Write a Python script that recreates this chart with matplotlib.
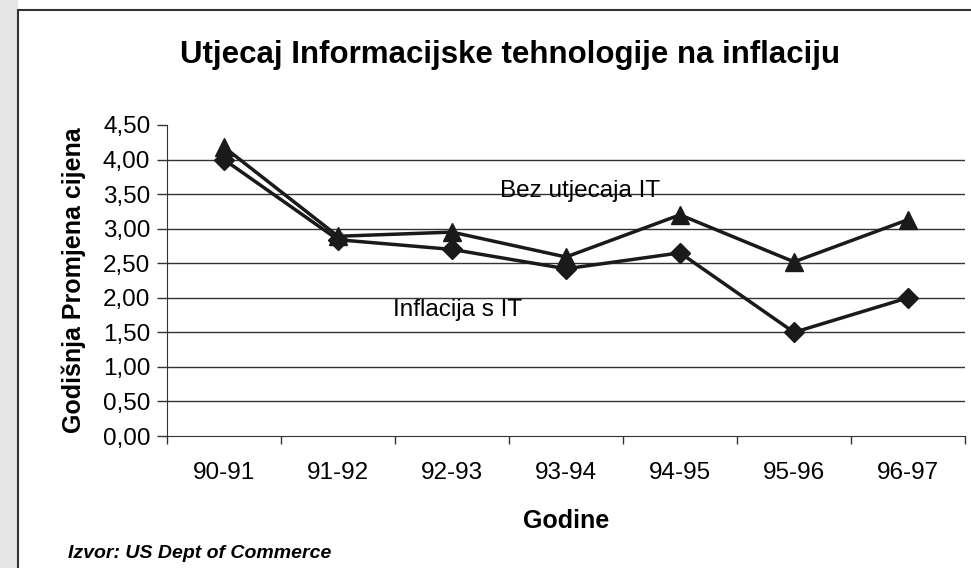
import matplotlib.pyplot as plt
from matplotlib.patches import Rectangle

plt.rcParams['font.family'] = ['Liberation Sans', 'DejaVu Sans']

godine = ["90-91", "91-92", "92-93", "93-94", "94-95", "95-96", "96-97"]
bez_it = [4.18, 2.89, 2.95, 2.59, 3.20, 2.52, 3.13]   # Bez utjecaja IT (trokuti)
s_it = [4.00, 2.84, 2.70, 2.42, 2.65, 1.50, 2.00]     # Inflacija s IT (rombovi)
y_ticks = [0, 0.5, 1, 1.5, 2, 2.5, 3, 3.5, 4, 4.5]

fig = plt.figure(figsize=(9.71, 5.68), dpi=100)
fig.patch.set_facecolor("white")

# siva traka lijevo i okvir grafikona
fig.patches.append(Rectangle((0, 0), 18 / 971, 1, transform=fig.transFigure,
                             facecolor="#e6e6e6", edgecolor="none", zorder=0))
fig.patches.append(Rectangle((18 / 971, -0.01), 1, 1 - 10 / 568 + 0.01, transform=fig.transFigure,
                             facecolor="none", edgecolor="#333333", linewidth=1.5, zorder=1))

ax = fig.add_axes([167 / 971, 1 - 436 / 568, (965 - 167) / 971, (436 - 125) / 568])
x = list(range(len(godine)))

ax.plot(x, bez_it, color="#1a1a1a", linewidth=2.5, marker="^", markersize=13, zorder=3)
ax.plot(x, s_it, color="#1a1a1a", linewidth=2.5, marker="D", markersize=10.5, zorder=3)

ax.set_xlim(-0.5, len(godine) - 0.5)
ax.set_ylim(0, 4.5)
ax.set_yticks(y_ticks)
ax.set_yticklabels([f"{v:.2f}".replace(".", ",") for v in y_ticks], fontsize=17.5)
ax.set_xticks(x)
ax.set_xticklabels(godine, fontsize=17.5)
ax.tick_params(axis="x", length=0, pad=19)
ax.set_xticks([i - 0.5 for i in range(len(godine) + 1)], minor=True)
ax.tick_params(axis="x", which="minor", length=6, width=1, color="#333333")
ax.tick_params(axis="y", length=7, width=1, color="#333333", pad=5)

for v in y_ticks[1:-1]:
    ax.axhline(v, color="#333333", linewidth=1, zorder=1)

for s in ["top", "right"]:
    ax.spines[s].set_visible(False)
ax.spines["left"].set_color("#333333")
ax.spines["bottom"].set_color("#333333")

ax.set_xlabel("Godine", fontsize=18, fontweight="bold", labelpad=18)
ax.set_ylabel("Godišnja Promjena cijena", fontsize=18, fontweight="bold", labelpad=12)

ax.text(2.42, 3.46, "Bez utjecaja IT", fontsize=17.5)
ax.text(1.48, 1.74, "Inflacija s IT", fontsize=17.5)

fig.text(510 / 971, 1 - 55 / 568, "Utjecaj Informacijske tehnologije na inflaciju",
         fontsize=22.5, fontweight="bold", ha="center", va="center")
fig.text(68 / 971, 1 - 553 / 568, "Izvor: US Dept of Commerce",
         fontsize=14, fontweight="bold", style="italic", ha="left", va="center")

fig.savefig("out.png", dpi=100)
